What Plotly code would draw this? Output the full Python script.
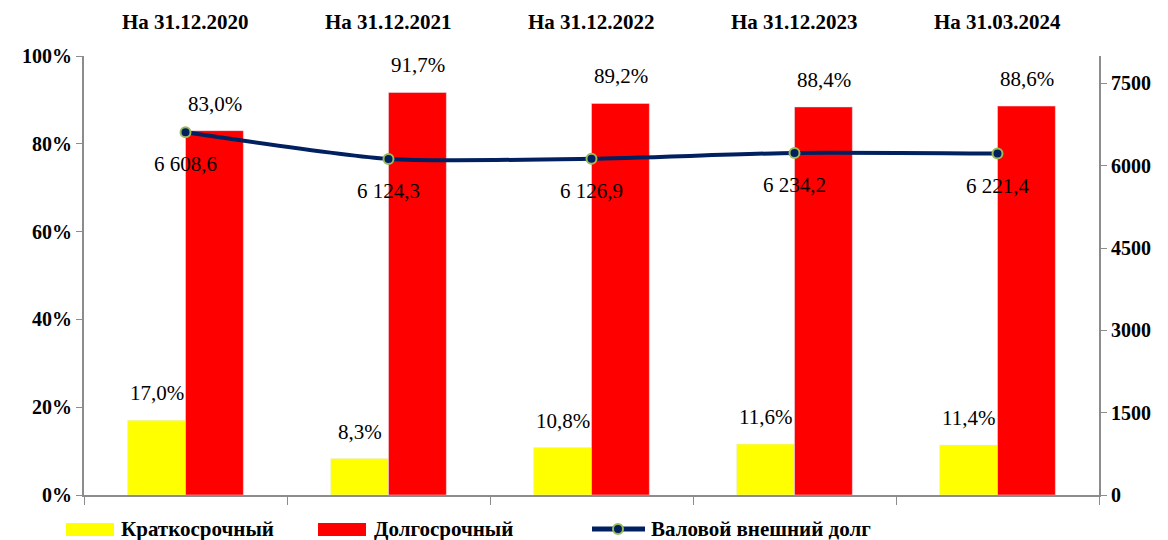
import plotly.graph_objects as go

dates = ['На 31.12.2020', 'На 31.12.2021', 'На 31.12.2022', 'На 31.12.2023', 'На 31.03.2024']
short_term = [17.0, 8.3, 10.8, 11.6, 11.4]
long_term = [83.0, 91.7, 89.2, 88.4, 88.6]
gross_debt = [6608.6, 6124.3, 6126.9, 6234.2, 6221.4]

FONT = 'Liberation Serif'
NAVY = '#002060'
YELLOW = '#FFFF00'
RED = '#FF0000'
MARKER_EDGE = '#9BBB59'
AXIS_GREY = '#8c8c8c'

# plot area in window pixels (page body adds an 8px margin)
PLOT_L, PLOT_R, PLOT_T, PLOT_B = 84, 1099, 56, 495


def px(x):
    return (x - PLOT_L) / (PLOT_R - PLOT_L)


def py(y):
    return (PLOT_B - y) / (PLOT_B - PLOT_T)


def pct(v):
    return f'{v:.1f}'.replace('.', ',') + '%'


def money(v):
    whole, frac = f'{v:.1f}'.split('.')
    whole = f'{int(whole):,}'.replace(',', ' ')
    return whole + ',' + frac


fig = go.Figure()
fig.add_trace(go.Bar(x=dates, y=short_term, name='Краткосрочный',
                     marker_color=YELLOW))
fig.add_trace(go.Bar(x=dates, y=long_term, name='Долгосрочный',
                     marker_color=RED))
fig.add_trace(go.Scatter(x=dates, y=gross_debt, name='Валовой внешний долг',
                         yaxis='y2', mode='lines+markers',
                         line=dict(color=NAVY, width=4, shape='spline', smoothing=0.6),
                         marker=dict(size=10, color=NAVY,
                                     line=dict(color=MARKER_EDGE, width=2))))

annotations = []
# percentage labels above the bars
for d, s, l in zip(dates, short_term, long_term):
    annotations.append(dict(x=d, y=s, xref='x', yref='y', text=pct(s),
                            xshift=-29, yshift=27, showarrow=False))
    annotations.append(dict(x=d, y=l, xref='x', yref='y', text=pct(l),
                            xshift=29, yshift=27, showarrow=False))
# debt labels under the line
for d, g in zip(dates, gross_debt):
    annotations.append(dict(x=d, y=g, xref='x', yref='y2', text=money(g),
                            yshift=-32, showarrow=False))
# date headings on top
for d in dates:
    annotations.append(dict(x=d, y=py(22), xref='x', yref='paper', yanchor='middle',
                            text='<b>' + d + '</b>', showarrow=False))

# hand-made legend below the plot (wide swatches like the original)
shapes = []
legend_y = 529
for (x0, x1), colour, trace_name, text_x in [((66, 114), YELLOW, fig.data[0].name, 119),
                                             ((318, 366), RED, fig.data[1].name, 372)]:
    shapes.append(dict(type='rect', xref='paper', yref='paper',
                       x0=px(x0), x1=px(x1), y0=py(legend_y + 7), y1=py(legend_y - 6),
                       fillcolor=colour, line_width=0))
    annotations.append(dict(x=px(text_x), y=py(legend_y), xref='paper', yref='paper',
                            xanchor='left', yanchor='middle',
                            text='<b>' + trace_name + '</b>', showarrow=False))
shapes.append(dict(type='line', xref='paper', yref='paper',
                   x0=px(592), x1=px(645), y0=py(legend_y), y1=py(legend_y),
                   line=dict(color=NAVY, width=5)))
shapes.append(dict(type='circle', xref='paper', yref='paper',
                   xsizemode='pixel', ysizemode='pixel',
                   xanchor=px(618), yanchor=py(legend_y),
                   x0=-5, x1=5, y0=-5, y1=5,
                   fillcolor=NAVY, line=dict(color=MARKER_EDGE, width=2)))
annotations.append(dict(x=px(649), y=py(legend_y), xref='paper', yref='paper',
                        xanchor='left', yanchor='middle',
                        text='<b>' + fig.data[2].name + '</b>', showarrow=False))

fig.update_layout(
    width=1160, height=532,
    margin=dict(l=PLOT_L - 8, r=1168 - PLOT_R, t=PLOT_T - 8, b=540 - PLOT_B,
                autoexpand=False),
    paper_bgcolor='white', plot_bgcolor='white',
    font=dict(family=FONT, size=21, color='black'),
    barmode='group', bargap=0.43, bargroupgap=0,
    annotations=annotations,
    shapes=shapes,
    showlegend=False,
    xaxis=dict(type='category', showticklabels=False, tickson='boundaries',
               ticks='outside', ticklen=8, tickcolor=AXIS_GREY,
               showline=True, linecolor=AXIS_GREY, linewidth=2, showgrid=False),
    yaxis=dict(range=[0, 100], dtick=20, ticksuffix='%', showgrid=False,
               ticks='outside', ticklen=6, tickcolor=AXIS_GREY,
               showline=True, linecolor=AXIS_GREY, linewidth=2,
               tickfont=dict(size=20, weight='bold'), zeroline=False),
    yaxis2=dict(range=[0, 8000], tickvals=[0, 1500, 3000, 4500, 6000, 7500],
                overlaying='y', side='right', showgrid=False,
                ticks='outside', ticklen=6, tickcolor=AXIS_GREY,
                showline=True, linecolor=AXIS_GREY, linewidth=2,
                tickfont=dict(size=20, weight='bold'), zeroline=False),
)

fig.write_html('out.html')
